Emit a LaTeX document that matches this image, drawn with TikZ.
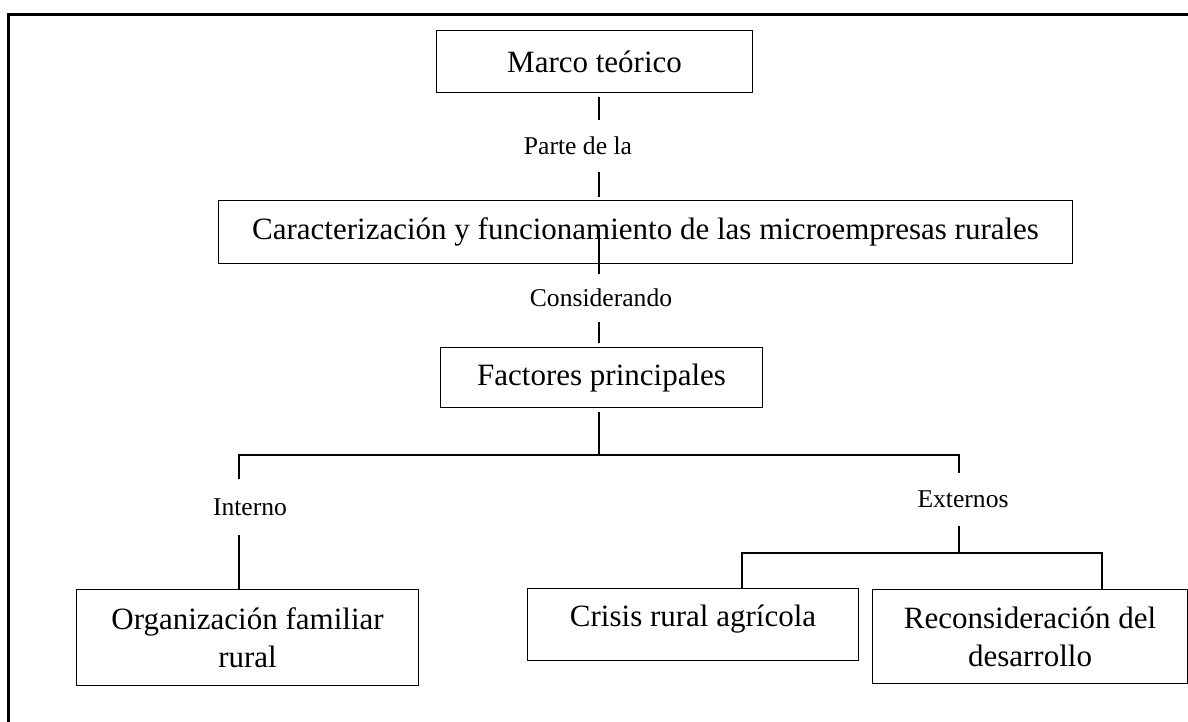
\documentclass[tikz,border=0pt]{standalone}
\usepackage{fontspec}
\setmainfont{Liberation Serif}
\begin{document}
\begin{tikzpicture}[x=1pt,y=-1pt,
  box/.style={draw, line width=1.1pt, inner sep=0pt, anchor=north west, align=center,
              font=\fontsize{31}{38}\selectfont},
  lbl/.style={inner sep=0pt, minimum width=10pt, font=\fontsize{25.6}{30}\selectfont},
  conn/.style={line width=1.1pt}]
\useasboundingbox (0,0) rectangle (1188,721);
% frame
\draw[line width=3pt, black] (8,730) -- (8,14) -- (1200,14);
% boxes
\node[box, minimum width=316pt, minimum height=62pt] (marco) at (436,30) {Marco teórico};
\node[box, minimum width=854pt, minimum height=63pt] (carac) at (218,200) {Caracterización y funcionamiento de las microempresas rurales};
\node[box, minimum width=322pt, minimum height=60pt] (fact) at (440,347) {Factores principales};
\node[box, minimum width=342pt, minimum height=96pt] (org) at (76,589) {Organización familiar\\rural};
\node[box, minimum width=331pt, minimum height=72pt] (crisis) at (527,588) {Crisis rural agrícola\rule[-17pt]{0pt}{17pt}};
\node[box, minimum width=315pt, minimum height=94pt] (recon) at (872,589) {Reconsideración del\\desarrollo};
% labels
\node[lbl, minimum height=51pt] (parte) at (578,146) {Parte de la};
\node[lbl, minimum height=48pt] (consid) at (601,298) {Considerando};
\node[lbl, minimum height=56pt] (interno) at (250,507) {Interno};
\node[lbl, minimum height=53pt] (externos) at (963,499.5) {Externos};
% helper coordinates
\coordinate (cx) at (599,0);
\coordinate (hL) at (239,455);
\coordinate (hR) at (959,455);
\coordinate (h2L) at (742,553);
\coordinate (h2R) at (1102,553);
% connectors
\draw[conn, shorten <=4pt] (marco.south -| cx) -- (parte.north -| cx);
\draw[conn, shorten >=3pt] (parte.south -| cx) -- (carac.north -| cx);
\draw[conn] ([yshift=4pt]carac.center -| cx) -- (consid.north -| cx);
\draw[conn, shorten >=4pt] (consid.south -| cx) -- (fact.north -| cx);
\draw[conn, shorten <=4pt] (fact.south -| cx) -- (cx |- hL);
\draw[conn] (interno.north -| hL) -- (hL) -- (hR) -- (externos.north -| hR);
\draw[conn] (interno.south -| hL) -- (org.north -| hL);
\draw[conn] (externos.south -| hR) -- (hR |- h2L);
\draw[conn] (crisis.north -| h2L) -- (h2L) -- (h2R) -- (recon.north -| h2R);
\end{tikzpicture}
\end{document}
